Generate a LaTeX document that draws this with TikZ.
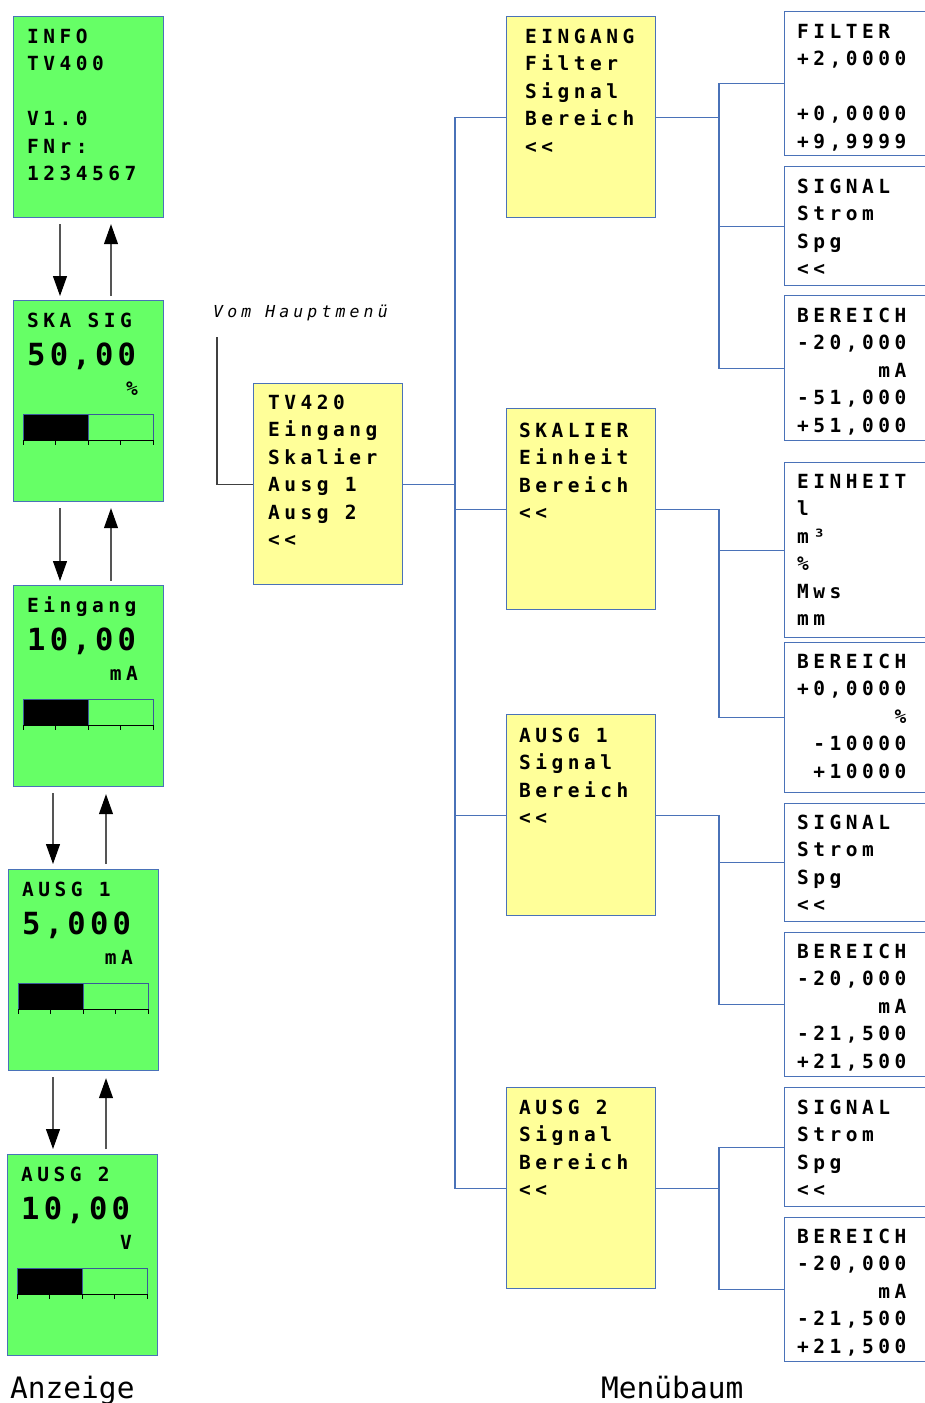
\documentclass[tikz,border=0pt]{standalone}
\usepackage{fontspec}
\usetikzlibrary{arrows.meta,calc}
\newfontfamily\mtxt[LetterSpace=23,Ligatures=TeXOff,BoldFont={DejaVu Sans Mono Bold}]{DejaVu Sans Mono}
\newfontfamily\mvom[LetterSpace=25,Ligatures=TeXOff,ItalicFont={DejaVu Sans Mono Oblique}]{DejaVu Sans Mono}
\newfontfamily\mbig[LetterSpace=14,Ligatures=TeXOff,BoldFont={DejaVu Sans Mono Bold}]{DejaVu Sans Mono}
\newfontfamily\mlab[Ligatures=TeXOff]{DejaVu Sans Mono}
\definecolor{gfill}{HTML}{66FF66}
\definecolor{yfill}{HTML}{FFFF99}
\definecolor{bord}{HTML}{4A72B8}
\definecolor{arrc}{HTML}{555555}
\definecolor{barcol}{HTML}{3A5A9A}
\newcommand\boxfont{\fontsize{19.5}{27.5}\selectfont\mtxt\bfseries}
\newcommand\valfont{\fontsize{30.5}{34}\selectfont\mbig\bfseries}
\newcommand\vomfont{\fontsize{16.5}{20}\selectfont\mvom\itshape}
\newcommand\labfont{\fontsize{29.5}{34}\selectfont\mlab}
\newcommand\lines[1]{\begin{tabular}[t]{@{}l@{}}#1\end{tabular}}
\newcommand\ra[1]{\multicolumn{1}{@{}r@{}}{#1}}
\newcommand\pct{\char"25\relax}
\tikzset{
  box/.style={draw=bord, line width=1.2pt, inner sep=0pt, anchor=north west},
  gbox/.style={box, fill=gfill, minimum width=150pt, minimum height=201pt},
  ybox/.style={box, fill=yfill, minimum width=149pt, minimum height=201pt},
  wbox/.style={box, fill=white, minimum width=170pt},
  txt/.style={anchor=base west, inner sep=0pt, font=\boxfont},
  utxt/.style={anchor=base east, inner sep=0pt, font=\boxfont},
  vtxt/.style={anchor=base west, inner sep=0pt, font=\valfont},
  conn/.style={draw=bord, line width=1.1pt},
  vomline/.style={draw=black!75, line width=1.1pt},
  arr/.style={draw=arrc, line width=1.1pt, -{Triangle[length=20pt,width=14pt,color=black]}},
  barline/.style={draw=barcol, line width=1pt},
  tick/.style={draw=black, line width=1pt},
}
\newcommand\gbar[2]{%
  \fill[black] (#1+10,#2+114) rectangle (#1+75,#2+140);
  \draw[barline] (#1+10,#2+114) rectangle (#1+140,#2+140);
  \draw[barline] (#1+75,#2+114) -- (#1+75,#2+140);
  \draw[tick] (#1+10,#2+140) -- (#1+140,#2+140);
  \foreach \t in {10,42.5,75,107.5,140} \draw[tick] (#1+\t,#2+140) -- (#1+\t,#2+145);
}
\newcommand\gbx[6]{%
  \node[gbox] (#1) at (#2,#3) {};
  \node[txt] (#1h) at (#2+14,#3+27.5) {#4};
  \node[vtxt] (#1v) at (#2+14,#3+65) {#5};
  \node[utxt] (#1u) at (#2+125,#3+95.5) {#6};
  \gbar{#2}{#3}
}
\begin{document}
\begin{tikzpicture}[x=1pt,y=-1pt]
\useasboundingbox (0,0) rectangle (925,1403);
\clip (0,0) rectangle (925,1403);

% ---------- Anzeige (left column)
\node[gbox] (g1) at (13,16) {};
\node[txt] (g1t) at (27,43) {\lines{INFO\\TV400\\ \\V1.0\\FNr:\\1234567}};
\gbx{g2}{13}{300}{SKA SIG}{50,00}{\pct}
\gbx{g3}{13}{585}{Eingang}{10,00}{mA}
\gbx{g4}{8}{869}{AUSG 1}{5,000}{mA}
\gbx{g5}{7}{1154}{AUSG 2}{10,00}{V}

\draw[arr] ($(g1.south west)+(47,6)$) -- ($(g2.north west)+(47,-4)$);
\draw[arr] ($(g2.north west)+(98,-4)$) -- ($(g1.south west)+(98,6)$);
\draw[arr] ($(g2.south west)+(47,6)$) -- ($(g3.north west)+(47,-4)$);
\draw[arr] ($(g3.north west)+(98,-4)$) -- ($(g2.south west)+(98,6)$);
\draw[arr] ($(g3.south west)+(40,6)$) -- ($(g4.north west)+(45,-5)$);
\draw[arr] ($(g4.north west)+(98,-5)$) -- ($(g3.south west)+(93,7)$);
\draw[arr] ($(g4.south west)+(45,6)$) -- ($(g5.north west)+(46,-5)$);
\draw[arr] ($(g5.north west)+(99,-5)$) -- ($(g4.south west)+(98,7)$);

\node[anchor=base west, inner sep=0pt, font=\labfont] (anz) at (10,1398) {Anzeige};

% ---------- Menuebaum
\node[anchor=base west, inner sep=0pt, font=\vomfont] (vom) at (213,317) {Vom Hauptmenü};
\coordinate (vomend) at (217,337);

\node[ybox] (tv) at (253,383) {};
\node[txt] (tvt) at (268,409) {\lines{TV420\\Eingang\\Skalier\\Ausg 1\\Ausg 2\\<<}};

\node[ybox] (ein) at (506,16) {};
\node[txt] (eint) at (525,43) {\lines{EINGANG\\Filter\\Signal\\Bereich\\<<}};
\node[ybox] (sk) at (506,408) {};
\node[txt] (skt) at (519,437) {\lines{SKALIER\\Einheit\\Bereich\\<<}};
\node[ybox] (a1) at (506,714) {};
\node[txt] (a1t) at (519,742) {\lines{AUSG 1\\Signal\\Bereich\\<<}};
\node[ybox] (a2) at (506,1087) {};
\node[txt] (a2t) at (519,1114) {\lines{AUSG 2\\Signal\\Bereich\\<<}};

\node[wbox, minimum height=144pt] (f1) at (784,11) {};
\node[txt] (f1t) at (797,38) {\lines{FILTER\\+2,0000\\ \\+0,0000\\+9,9999}};
\node[wbox, minimum height=119pt] (s1) at (784,166) {};
\node[txt] (s1t) at (797,193) {\lines{SIGNAL\\Strom\\Spg\\<<}};
\node[wbox, minimum height=145pt] (b1) at (784,295) {};
\node[txt] (b1t) at (797,322) {\lines{BEREICH\\-20,000\\\ra{mA}\\-51,000\\+51,000}};
\node[wbox, minimum height=175pt] (e2) at (784,462) {};
\node[txt] (e2t) at (797,488) {\lines{EINHEIT\\l\\m³\\\pct\\Mws\\mm}};
\node[wbox, minimum height=150pt] (b2) at (784,642) {};
\node[txt] (b2t) at (797,668) {\lines{BEREICH\\+0,0000\\\ra{\pct}\\\ra{-10000}\\\ra{+10000}}};
\node[wbox, minimum height=118pt] (s3) at (784,803) {};
\node[txt] (s3t) at (797,829) {\lines{SIGNAL\\Strom\\Spg\\<<}};
\node[wbox, minimum height=144pt] (b3) at (784,932) {};
\node[txt] (b3t) at (797,958) {\lines{BEREICH\\-20,000\\\ra{mA}\\-21,500\\+21,500}};
\node[wbox, minimum height=119pt] (s4) at (784,1087) {};
\node[txt] (s4t) at (797,1114) {\lines{SIGNAL\\Strom\\Spg\\<<}};
\node[wbox, minimum height=144pt] (b4) at (784,1217) {};
\node[txt] (b4t) at (797,1243) {\lines{BEREICH\\-20,000\\\ra{mA}\\-21,500\\+21,500}};

\node[anchor=base west, inner sep=0pt, font=\labfont] (menu) at (601,1398) {Menübaum};

% connectors
\coordinate (tx) at (455,0);
\coordinate (bx) at (719,0);
\draw[vomline] (vomend) |- (tv.west);
\draw[conn] (tv.east) -- (tv.east -| tx);
\draw[conn] (ein.west) -- (ein.west -| tx) |- (a2.west);
\draw[conn] (sk.west) -- (sk.west -| tx);
\draw[conn] (a1.west) -- (a1.west -| tx);

\draw[conn] (ein.east) -- (ein.east -| bx);
\draw[conn] (f1.west) -- (f1.west -| bx) |- (b1.west);
\draw[conn] (s1.west) -- (s1.west -| bx);

\draw[conn] (sk.east) -- (sk.east -| bx) |- (b2.west);
\draw[conn] (e2.west) -- (e2.west -| bx);

\draw[conn] (a1.east) -- (a1.east -| bx) |- (b3.west);
\draw[conn] (s3.west) -- (s3.west -| bx);

\draw[conn] (s4.west) -- (s4.west -| bx) |- (b4.west);
\draw[conn] (a2.east) -- (a2.east -| bx);
\end{tikzpicture}
\end{document}
